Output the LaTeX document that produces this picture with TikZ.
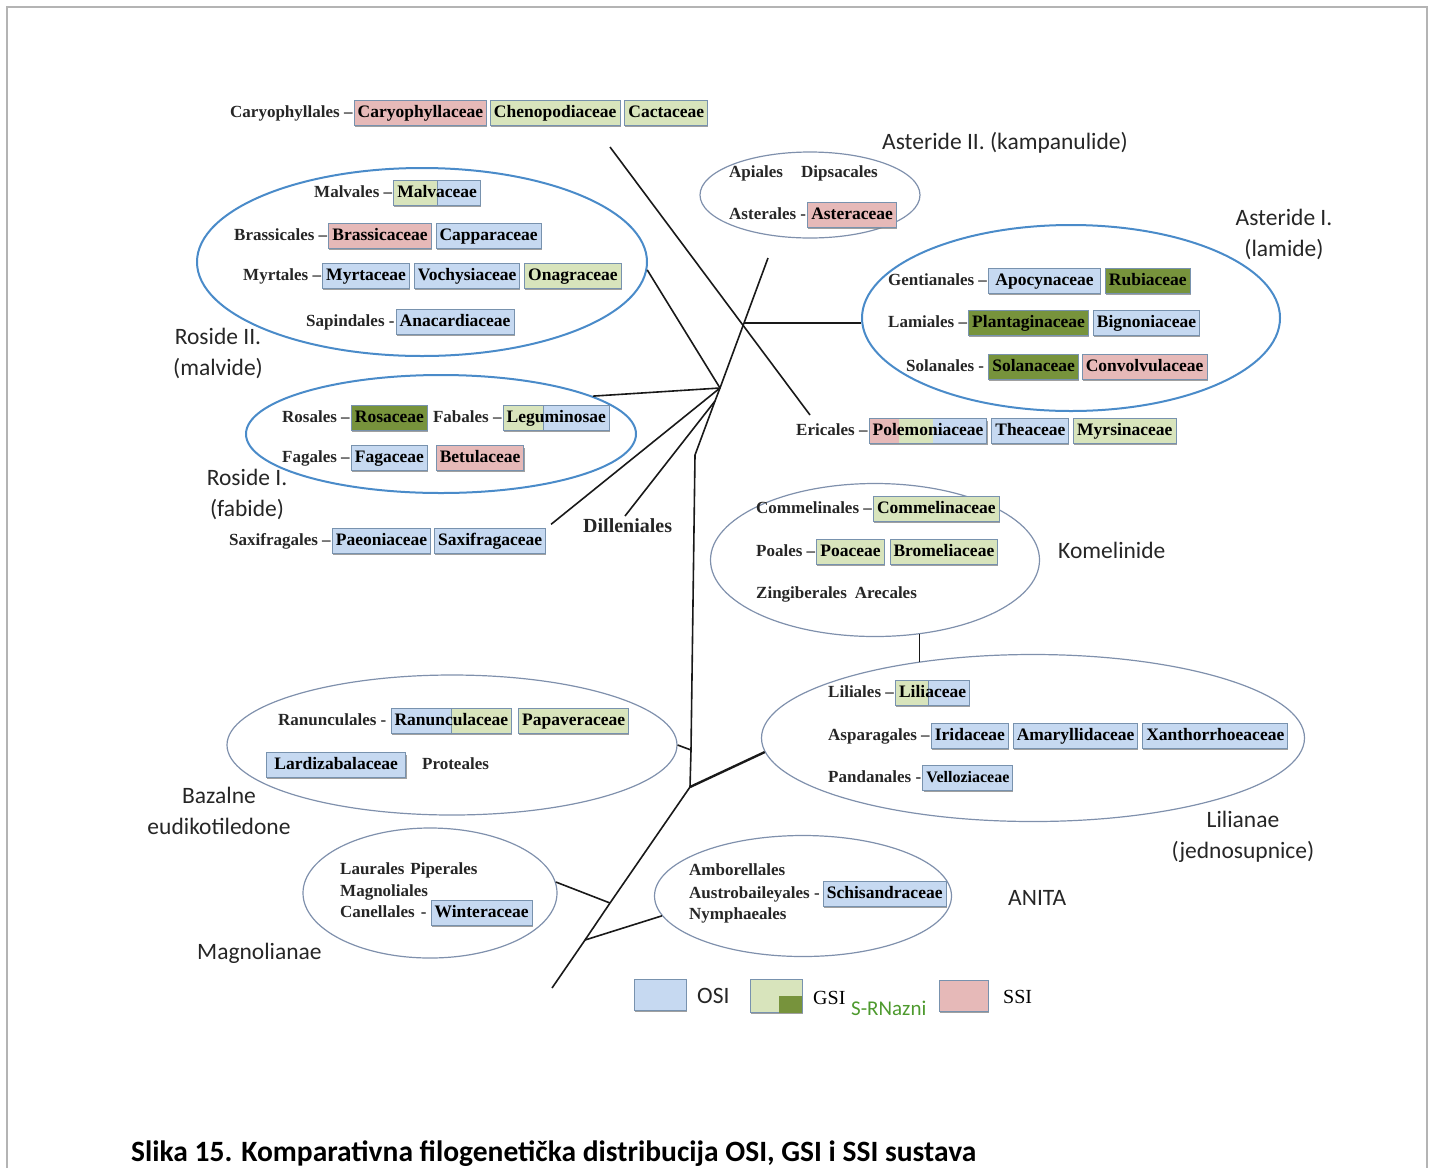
\documentclass[tikz,border=0pt]{standalone}
\usepackage{fontspec}
\setmainfont{Liberation Serif}
\newfontfamily\calibri{Carlito}
\usetikzlibrary{positioning, shapes.geometric, shadows, calc}

\definecolor{osiblue}{HTML}{C6D9F1}
\definecolor{gsigreen}{HTML}{D8E4BC}
\definecolor{srngreen}{HTML}{77933C}
\definecolor{ssipink}{HTML}{E6B9B8}
\definecolor{boxline}{HTML}{7892AE}
\definecolor{ringblue}{HTML}{4A8BC9}
\definecolor{ringgray}{HTML}{7F90AC}
\definecolor{framegray}{HTML}{B4B4B4}
\definecolor{rntext}{HTML}{4E9A2E}

\tikzset{
  fam/.style={draw=boxline, line width=0.9pt, font=\fontsize{17.5}{21}\selectfont\bfseries,
    text height=12.5pt, text depth=4pt, inner xsep=3.5pt, inner ysep=4pt,
    drop shadow={shadow xshift=0.6pt, shadow yshift=-1.8pt, fill=black!50, opacity=0.75}},
  osi/.style={fam, fill=osiblue},
  gsi/.style={fam, fill=gsigreen},
  srn/.style={fam, fill=srngreen},
  ssi/.style={fam, fill=ssipink},
  split/.style n args={3}{fam, fill=#1, path picture={
    \fill[#2] ($(path picture bounding box.south west)!#3!(path picture bounding box.south east)$) rectangle (path picture bounding box.north east);
    \draw[boxline, line width=0.9pt] ($(path picture bounding box.south west)!#3!(path picture bounding box.south east)$) -- ($(path picture bounding box.north west)!#3!(path picture bounding box.north east)$);}},
  ord/.style={font=\fontsize{17}{20}\selectfont\bfseries, text=black!85, text height=12pt, text depth=4pt, inner xsep=1pt, inner ysep=4pt},
  clade/.style={font=\calibri\fontsize{23.5}{31}\selectfont, text=black!85, align=center, inner sep=0pt},
  ring/.style={ellipse, draw=ringblue, line width=2pt, inner sep=0pt},
  thinring/.style={ellipse, draw=ringgray, line width=1.2pt, inner sep=0pt},
  branch/.style={draw=black!90, line width=1.6pt},
}

\begin{document}
\begin{tikzpicture}[x=1pt, y=-1pt]
\useasboundingbox (0,0) rectangle (1434,1168);
\draw[framegray, line width=2pt] (7,1168) -- (7,7) -- (1427,7) -- (1427,1168);

% groups
\node[ring, minimum width=450pt, minimum height=188pt] (rosII) at (422,262) {};
\node[ring, minimum width=390pt, minimum height=118pt] (rosI) at (441,434) {};
\node[thinring, minimum width=220pt, minimum height=86pt] (astII) at (810,195) {};
\node[ring, minimum width=418pt, minimum height=186pt] (astI) at (1071,318) {};
\node[thinring, minimum width=329pt, minimum height=153pt] (kom) at (875,560) {};
\node[thinring, minimum width=543pt, minimum height=167pt] (lil) at (1033,738) {};
\node[thinring, minimum width=450pt, minimum height=140pt] (baz) at (452,745) {};
\node[thinring, minimum width=254pt, minimum height=130pt] (mag) at (430,893) {};
\node[thinring, minimum width=297pt, minimum height=121pt] (anita) at (803,896) {};

% Caryophyllales
\node[ord, anchor=west] (cary) at (229,113) {Caryophyllales –};
\node[ssi, right=0pt of cary] (caryF) {Caryophyllaceae};
\node[gsi, right=3pt of caryF] (cheno) {Chenopodiaceae};
\node[gsi, right=4pt of cheno] (cact) {Cactaceae};

% Roside II
\node[ord, anchor=west] (malv) at (313,193) {Malvales –};
\node[split={gsigreen}{osiblue}{0.5}, right=0pt of malv] (malvF) {Malvaceae};
\node[ord, anchor=west] (bras) at (233,236) {Brassicales –};
\node[ssi, right=0pt of bras] (brasF) {Brassicaceae};
\node[osi, right=4pt of brasF] (capp) {Capparaceae};
\node[ord, anchor=west] (myrt) at (242,276) {Myrtales –};
\node[osi, right=0pt of myrt] (myrtF) {Myrtaceae};
\node[osi, right=4pt of myrtF] (voch) {Vochysiaceae};
\node[gsi, right=4pt of voch] (onag) {Onagraceae};
\node[ord, anchor=west] (sapi) at (305,322) {Sapindales -};
\node[osi, right=0pt of sapi] (anac) {Anacardiaceae};
\node[clade] (rosIIlab) at (218,353) {Roside II.\\(malvide)};

% Roside I
\node[ord, anchor=west] (rosa) at (281,418) {Rosales –};
\node[srn, right=0pt of rosa] (rosaF) {Rosaceae};
\node[ord, right=4pt of rosaF] (faba) {Fabales –};
\node[split={gsigreen}{osiblue}{0.38}, right=0pt of faba] (legu) {Leguminosae};
\node[ord, anchor=west] (faga) at (281,458) {Fagales –};
\node[osi, right=0pt of faga] (fagaF) {Fagaceae};
\node[ssi, right=8pt of fagaF] (betu) {Betulaceae};
\node[clade] (rosIlab) at (247,494) {Roside I.\\(fabide)};

\node[ord, anchor=west] (saxo) at (228,541) {Saxifragales –};
\node[osi, right=0pt of saxo] (paeo) {Paeoniaceae};
\node[osi, right=3pt of paeo] (saxi) {Saxifragaceae};
\node[ord, font=\fontsize{20}{24}\selectfont\bfseries, anchor=west] (dill) at (582,528) {Dilleniales};

% Asteride II
\node[ord, anchor=west] (apia) at (728,173) {Apiales};
\node[ord, anchor=west] (dips) at (800,173) {Dipsacales};
\node[ord, anchor=west] (aste) at (728,215) {Asterales -};
\node[ssi, right=0pt of aste] (asteF) {Asteraceae};
\node[clade, anchor=west] (astIIlab) at (882,143) {Asteride II. (kampanulide)};

% Asteride I
\node[ord, anchor=west] (gent) at (887,281) {Gentianales –};
\node[osi, minimum width=112pt, right=0pt of gent] (apoc) {Apocynaceae};
\node[srn, right=4pt of apoc] (rubi) {Rubiaceae};
\node[ord, anchor=west] (lami) at (887,323) {Lamiales –};
\node[srn, right=0pt of lami] (plan) {Plantaginaceae};
\node[osi, right=4pt of plan] (bign) {Bignoniaceae};
\node[ord, anchor=west] (sola) at (905,367) {Solanales -};
\node[srn, right=3pt of sola] (solaF) {Solanaceae};
\node[ssi, right=3pt of solaF] (conv) {Convolvulaceae};
\node[clade] (astIlab) at (1284,234) {Asteride I.\\(lamide)};

\node[ord, anchor=west] (eric) at (795,431) {Ericales –};
\node[fam, fill=ssipink, right=0pt of eric, path picture={
  \fill[gsigreen] ($(path picture bounding box.south west)!0.25!(path picture bounding box.south east)$) rectangle (path picture bounding box.north east);
  \fill[osiblue] ($(path picture bounding box.south west)!0.54!(path picture bounding box.south east)$) rectangle (path picture bounding box.north east);}] (pole) {Polemoniaceae};
\node[osi, right=4pt of pole] (thea) {Theaceae};
\node[gsi, right=4pt of thea] (myrs) {Myrsinaceae};

% Komelinide
\node[ord, anchor=west] (comm) at (755,509) {Commelinales –};
\node[gsi, right=0pt of comm] (commF) {Commelinaceae};
\node[ord, anchor=west] (poal) at (755,552) {Poales –};
\node[gsi, right=0pt of poal] (poac) {Poaceae};
\node[gsi, right=5pt of poac] (brom) {Bromeliaceae};
\node[ord, anchor=west] (zing) at (755,594) {Zingiberales\hspace{8pt}Arecales};
\node[clade, anchor=west] (komlab) at (1058,550) {Komelinide};

% Lilianae
\node[ord, anchor=west] (lili) at (827,693) {Liliales –};
\node[split={gsigreen}{osiblue}{0.45}, right=0pt of lili] (liliF) {Liliaceae};
\node[ord, anchor=west] (aspa) at (827,736) {Asparagales –};
\node[osi, right=0pt of aspa] (irid) {Iridaceae};
\node[osi, right=4pt of irid] (amar) {Amaryllidaceae};
\node[osi, right=4pt of amar] (xant) {Xanthorrhoeaceae};
\node[ord, anchor=west] (pand) at (827,778) {Pandanales -};
\node[osi, font=\fontsize{16}{19}\selectfont\bfseries, right=0pt of pand] (vell) {Velloziaceae};
\node[clade] (lillab) at (1243,837) {Lilianae\\(jednosupnice)};

% Bazalne eudikotiledone
\node[ord, anchor=west] (ranu) at (277,721) {Ranunculales -};
\node[split={osiblue}{gsigreen}{0.5}, right=3pt of ranu] (ranuF) {Ranunculaceae};
\node[gsi, right=6pt of ranuF] (papa) {Papaveraceae};
\node[osi, anchor=west, inner xsep=8pt] (lard) at (266,765) {Lardizabalaceae};
\node[ord, anchor=west] (prot) at (421,765) {Proteales};
\node[clade] (bazlab) at (219,811) {Bazalne\\eudikotiledone};

% Magnolianae
\node[ord, anchor=west] (laur) at (339,870) {Laurales\hspace{6pt}Piperales};
\node[ord, anchor=west] (magn) at (339,892) {Magnoliales};
\node[ord, anchor=west] (cane) at (339,913) {Canellales\hspace{6pt}-};
\node[osi, right=3pt of cane] (wint) {Winteraceae};
\node[clade, anchor=west] (maglab) at (197,953) {Magnolianae};

% ANITA
\node[ord, anchor=west] (ambo) at (688,871) {Amborellales};
\node[ord, anchor=west] (aust) at (688,894) {Austrobaileyales -};
\node[osi, right=2pt of aust] (schi) {Schisandraceae};
\node[ord, anchor=west] (nymp) at (688,915) {Nymphaeales};
\node[clade, anchor=west] (anitalab) at (1008,898) {ANITA};

% tree
\coordinate (caryEnd) at (610,147);
\coordinate (ericEnd) at (810,415);
\coordinate (trunkTop) at (768,258);
\coordinate (jAst) at (744,323);
\coordinate (jRos) at (720,388);
\coordinate (jDil) at (715,401);
\coordinate (bend) at (695,455);
\coordinate (jBaz) at (691,750);
\coordinate (jLil) at (690,787);
\coordinate (jMag) at (610,903);
\coordinate (jAnita) at (585,940);
\coordinate (root) at (552,988);
\coordinate (dillEnd) at (625,516);
\draw[branch] (caryEnd) -- (ericEnd);
\draw[branch] (trunkTop) -- (jAst) -- (jRos) -- (jDil) -- (bend) -- (jBaz) -- (jLil) -- (jMag) -- (jAnita) -- (root);
\draw[branch] (jAst) -- (jAst -| astI.west);
\draw[branch] (rosII.-2) -- (jRos);
\draw[branch] (rosI.14) -- (jRos);
\draw[branch] ([shift={(5,-4)}]saxi.north east) -- (jRos);
\draw[branch] (dillEnd) -- (jDil);
\draw[branch] (baz.east) -- (jBaz);
\draw[branch, line width=2.4pt] (jLil) -- (lil.183);
\draw[branch] (mag.5) -- (jMag);
\draw[branch] (anita.188) -- (jAnita);
\draw[branch] (kom.-59) -- (kom.-59 |- lil.146);

% legend
\node[fam, fill=osiblue, minimum width=52pt, minimum height=31pt] (legOsi) at (660,995) {};
\node[clade, anchor=west] (legOsiT) at (697,996) {OSI};
\node[fam, fill=gsigreen, minimum width=52pt, minimum height=33pt] (legGsi) at (776,996) {};
\node[fill=srngreen, minimum width=23pt, minimum height=17pt, inner sep=0pt, anchor=south east] (legSrn) at (legGsi.south east) {};
\node[anchor=west, font=\fontsize{20}{24}\selectfont, inner sep=0pt] (legGsiT) at (813,998) {GSI};
\node[anchor=west, font=\calibri\fontsize{21}{25}\selectfont, text=rntext, inner sep=0pt] (legRn) at (851,1008) {S-RNazni};
\node[fam, fill=ssipink, minimum width=49pt, minimum height=31pt] (legSsi) at (964,996) {};
\node[anchor=west, font=\fontsize{20}{24}\selectfont, inner sep=0pt] (legSsiT) at (1003,997) {SSI};

\node[anchor=west, font=\calibri\bfseries\fontsize{29.5}{34}\selectfont, inner sep=0pt] (caption) at (131,1154) {Slika 15. Komparativna filogenetička distribucija OSI, GSI i SSI sustava};
\end{tikzpicture}
\end{document}
